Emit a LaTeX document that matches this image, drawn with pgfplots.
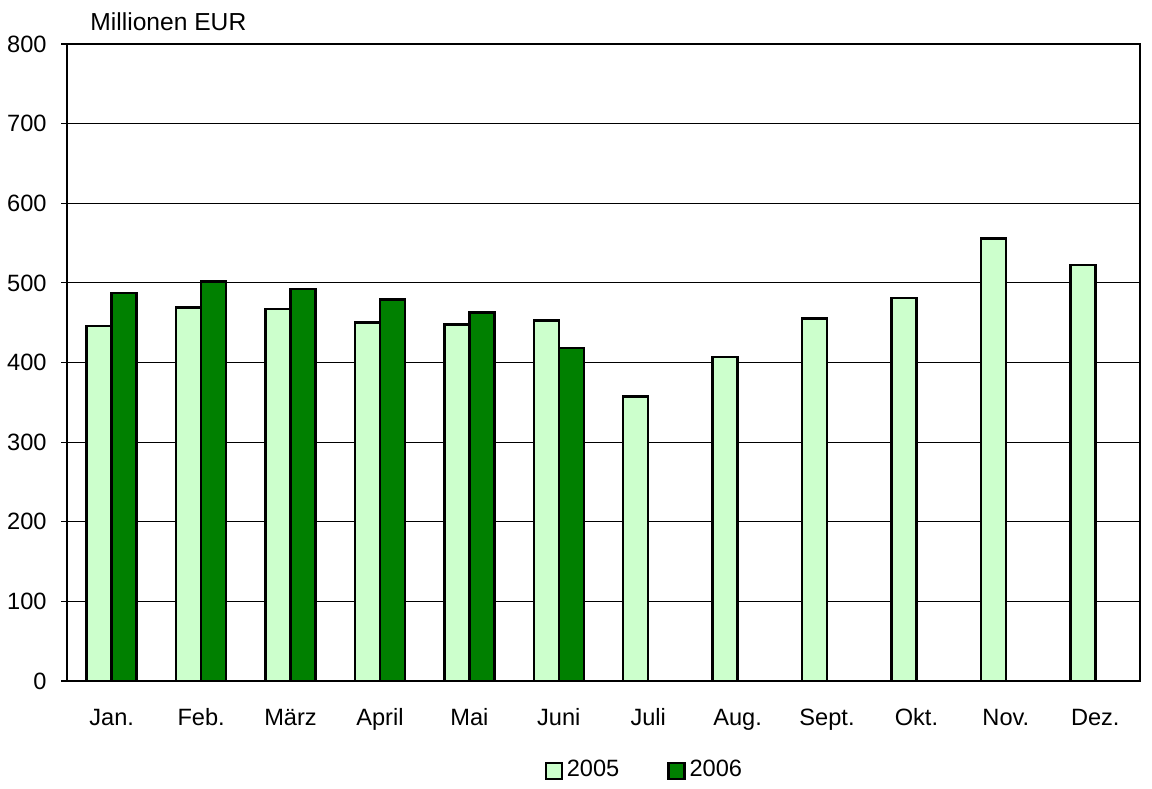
\documentclass[border=0pt]{standalone}
\usepackage{pgfplots}
\pgfplotsset{compat=1.18}
\usepackage{fontspec}
\setmainfont{Liberation Sans}
\definecolor{lightg}{RGB}{204,255,204}
\definecolor{darkg}{RGB}{0,128,0}
\begin{document}
\begin{tikzpicture}
\fontsize{11.8}{14}\selectfont
\path (-33.5pt,-50.5pt) rectangle (542.5pt,340.5pt);
\begin{axis}[
  at={(0,0)}, anchor=south west,
  scale only axis,
  width=536.5pt, height=318.5pt,
  ybar=0pt, bar width=12.5pt,
  xmin=-0.5, xmax=11.5,
  ymin=0, ymax=800,
  ytick={0,100,...,800},
  xtick={0,...,11},
  xticklabels={Jan.,Feb.,März,April,Mai,Juni,Juli,Aug.,Sept.,Okt.,Nov.,Dez.},
  x tick style={draw=none},
  ytick pos=left,
  y tick style={black, line width=0.6pt},
  tick align=outside,
  major tick length=3pt,
  ymajorgrids,
  grid style={black, line width=0.5pt},
  axis line style={black, line width=1pt},
  /pgf/number format/assume math mode=true,
  tick label style={font=\fontsize{11.8}{14}\selectfont},
  yticklabel style={inner sep=0pt, xshift=-7pt},
  xticklabel style={inner sep=0pt, anchor=base, yshift=-19.5pt},
  clip=false,
  legend style={draw=none, at={(0.539,-0.14)}, anchor=center, legend columns=2,
    font=\fontsize{11.8}{14}\selectfont,
    /tikz/every even column/.append style={column sep=22pt}},
  legend image code/.code={\draw[#1, line width=1.1pt] (0pt,-4.4pt) rectangle (8pt,3.6pt);},
]
\addplot[fill=lightg, draw=black, line width=1.25pt] coordinates {
(0,446) (1,469) (2,467.5) (3,450) (4,447.5) (5,453) (6,357) (7,407) (8,455) (9,481) (10,556) (11,522.5)};
\addplot[fill=darkg, draw=black, line width=1.25pt] coordinates {
(0,487.5) (1,502) (2,492.5) (3,479) (4,462.5) (5,418)};
\legend{2005,2006}
\node[anchor=west, inner sep=0pt, font=\fontsize{12.3}{14}\selectfont] at (rel axis cs:0.0215,1.035) {Millionen EUR};
\end{axis}
\end{tikzpicture}
\end{document}
